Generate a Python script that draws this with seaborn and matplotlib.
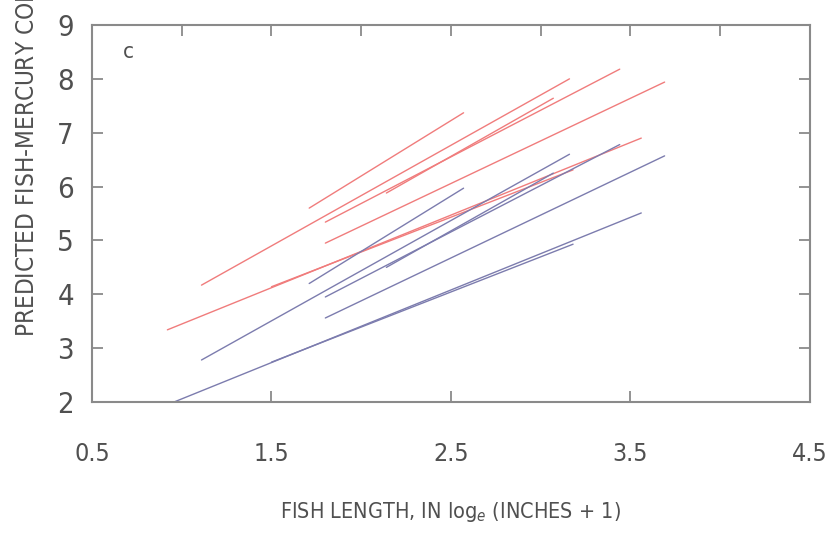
import numpy as np
import pandas as pd
import matplotlib
matplotlib.use("Agg")
import matplotlib.pyplot as plt
from matplotlib.ticker import MultipleLocator
import seaborn as sns

# ── Data: each regression line is a (start, end) segment ──
# fish length, log_e(inches + 1)
x_start = [0.92, 1.50, 1.11, 1.71, 1.80, 1.80, 2.14]
x_end = [3.56, 3.18, 3.16, 2.57, 3.44, 3.69, 3.07]

# red group (predicted Hg, upper set)
red_y_start = [3.34, 4.14, 4.17, 5.60, 5.34, 4.95, 5.88]
red_y_end = [6.90, 6.31, 8.00, 7.37, 8.18, 7.94, 7.64]

# blue group (predicted Hg, lower set)
blue_y_start = [1.95, 2.74, 2.78, 4.20, 3.95, 3.56, 4.50]
blue_y_end = [5.51, 4.93, 6.60, 5.97, 6.78, 6.57, 6.25]

x_ticks = [0.5, 1.5, 2.5, 3.5, 4.5]
y_ticks = [2, 3, 4, 5, 6, 7, 8, 9]

RED = "#f07c7c"
BLUE = "#7c7cae"
TEXT = "#505050"
SPINE = "#8a8a8a"

rows = []
for grp, ys, ye in [("red", red_y_start, red_y_end), ("blue", blue_y_start, blue_y_end)]:
    for i in range(len(x_start)):
        seg = f"{grp}{i}"
        rows.append({"group": grp, "seg": seg, "x": x_start[i], "y": ys[i]})
        rows.append({"group": grp, "seg": seg, "x": x_end[i], "y": ye[i]})
df = pd.DataFrame(rows)

sns.set_style("white")
plt.rcParams["font.family"] = ["DejaVu Sans"]
plt.rcParams["font.stretch"] = "condensed"

fig = plt.figure(figsize=(8.33, 5.34), dpi=100)
ax = fig.add_axes([92 / 833, 1 - 402 / 534, (810 - 92) / 833, (402 - 25) / 534])

sns.lineplot(data=df, x="x", y="y", hue="group", units="seg", estimator=None,
             palette={"red": RED, "blue": BLUE}, legend=False, lw=1.0, ax=ax)

ax.set_xlim(0.5, 4.5)
ax.set_ylim(2, 9)
ax.set_xticks(x_ticks)
ax.set_xticklabels([f"{v:.1f}" for v in x_ticks])
ax.xaxis.set_minor_locator(MultipleLocator(0.5))
ax.set_yticks(y_ticks)
ax.set_yticklabels([str(v) for v in y_ticks])

for s in ax.spines.values():
    s.set_color(SPINE)
    s.set_linewidth(1.5)

ax.tick_params(axis="x", which="major", direction="in", top=True, bottom=True,
               length=8, width=1.3, color=SPINE, pad=29, labelsize=18, labelcolor=TEXT)
ax.tick_params(axis="x", which="minor", direction="in", top=True, bottom=False,
               length=8, width=1.3, color=SPINE)
ax.tick_params(axis="y", direction="in", left=True, right=True,
               length=8, width=1.3, color=SPINE, pad=13, labelsize=21, labelcolor=TEXT)

ax.set_xlabel("")
ax.set_ylabel("")
fig.text(450 / 833, 1 - 512 / 534, "FISH LENGTH, IN log$_e$ (INCHES + 1)",
         ha="center", va="center", fontsize=15.5, color=TEXT)
fig.text(27 / 833, 1 - 337 / 534,
         "PREDICTED FISH-MERCURY CONCENTRATION, IN log$_e$ (NANOGRAMS PER GRAM + 1)",
         rotation=90, ha="center", va="bottom", fontsize=17.5, color=TEXT)
ax.text(0.05, 0.928, "c", transform=ax.transAxes, fontsize=16, color=TEXT,
        ha="center", va="center")

fig.savefig("out.png", dpi=100)
plt.close(fig)
